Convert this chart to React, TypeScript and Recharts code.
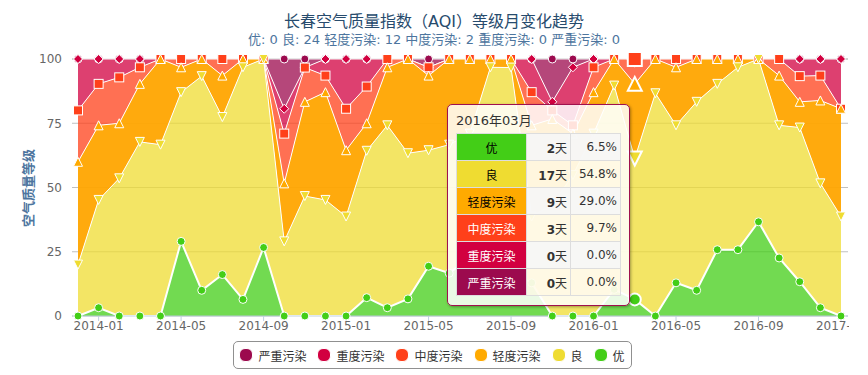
import React from 'react';
import { AreaChart, Area, XAxis, YAxis, CartesianGrid, Tooltip } from 'recharts';

// 月份（2013-12 ~ 2017-01）
const MONTHS = [
  '2013-12', '2014-01', '2014-02', '2014-03', '2014-04', '2014-05', '2014-06', '2014-07',
  '2014-08', '2014-09', '2014-10', '2014-11', '2014-12', '2015-01', '2015-02', '2015-03',
  '2015-04', '2015-05', '2015-06', '2015-07', '2015-08', '2015-09', '2015-10', '2015-11',
  '2015-12', '2016-01', '2016-02', '2016-03', '2016-04', '2016-05', '2016-06', '2016-07',
  '2016-08', '2016-09', '2016-10', '2016-11', '2016-12', '2017-01',
];

// 每月各等级天数
const EXCELLENT_DAYS = [0, 1, 0, 0, 0, 9, 3, 5, 2, 8, 0, 0, 0, 0, 2, 1, 2, 6, 5, 7, 6, 5, 4, 0, 0, 0, 3, 2, 0, 4, 3, 8, 8, 11, 7, 4, 1, 0];
const GOOD_DAYS = [1, 13, 15, 21, 20, 18, 25, 19, 28, 22, 9, 14, 14, 12, 16, 22, 17, 14, 15, 15, 24, 24, 8, 13, 17, 22, 23, 17, 26, 19, 22, 20, 22, 19, 16, 18, 15, 12];
const LIGHT_DAYS = [2, 9, 6, 7, 10, 3, 2, 5, 1, 0, 7, 11, 13, 8, 3, 7, 11, 9, 10, 9, 1, 1, 11, 10, 5, 5, 3, 9, 4, 7, 5, 3, 1, 0, 6, 3, 10, 13];
const MODERATE_DAYS = [1, 5, 5, 2, 0, 1, 0, 2, 0, 0, 6, 4, 2, 5, 4, 1, 0, 1, 0, 0, 0, 0, 4, 1, 1, 3, 0, 3, 0, 1, 0, 0, 0, 0, 2, 3, 3, 0];
const HEAVY_DAYS = [1, 3, 2, 1, 0, 0, 0, 0, 0, 0, 3, 0, 2, 6, 3, 0, 0, 0, 0, 0, 0, 0, 4, 1, 7, 1, 0, 0, 0, 0, 0, 0, 0, 0, 0, 2, 2, 6];
const SEVERE_DAYS = [0, 0, 0, 0, 0, 0, 0, 0, 0, 0, 6, 1, 0, 0, 0, 0, 0, 1, 0, 0, 0, 0, 0, 5, 1, 0, 0, 0, 0, 0, 0, 0, 0, 0, 0, 0, 0, 0];

const X_TICKS = ['2014-01', '2014-05', '2014-09', '2015-01', '2015-05', '2015-09', '2016-01', '2016-05', '2016-09', '2017-01'];
const Y_TICKS = [0, 25, 50, 75, 100];

type Shape = 'circle' | 'diamond' | 'square' | 'triangle' | 'triangle-down';

// 顺序：堆叠顶部 -> 底部（同图例顺序）
const SERIES: { key: string; name: string; color: string; fill: string; opacity: number; shape: Shape; text: string; days: number[] }[] = [
  { key: 'severe', name: '严重污染', color: '#9c0a4e', fill: '#9c0a4e', opacity: 0.75, shape: 'circle', text: '#fff', days: SEVERE_DAYS },
  { key: 'heavy', name: '重度污染', color: '#d20040', fill: '#d20040', opacity: 0.75, shape: 'diamond', text: '#fff', days: HEAVY_DAYS },
  { key: 'moderate', name: '中度污染', color: '#ff401a', fill: '#ff401a', opacity: 0.75, shape: 'square', text: '#fff', days: MODERATE_DAYS },
  { key: 'light', name: '轻度污染', color: '#ffaa00', fill: '#ffa500', opacity: 0.95, shape: 'triangle', text: '#000', days: LIGHT_DAYS },
  { key: 'good', name: '良', color: '#efdc31', fill: '#efdc31', opacity: 0.75, shape: 'triangle-down', text: '#000', days: GOOD_DAYS },
  { key: 'excellent', name: '优', color: '#43ce17', fill: '#43ce17', opacity: 0.75, shape: 'circle', text: '#000', days: EXCELLENT_DAYS },
];

const data = MONTHS.map((month, i) => {
  const total = SERIES.reduce((s, se) => s + se.days[i], 0);
  const row: Record<string, any> = { month, total };
  SERIES.forEach((se) => {
    row[se.key] = (se.days[i] / total) * 100;
    row[se.key + 'Days'] = se.days[i];
  });
  return row;
});

const FONT = '"DejaVu Sans", "Noto Sans CJK SC", sans-serif';

function marker(shape: Shape, color: string, r: number, sw: number, tag: string) {
  return (props: any) => {
    const { cx, cy, index } = props;
    const k = `${tag}-${index}`;
    if (cx == null || cy == null) return <g key={k} />;
    const common = { fill: color, stroke: '#fff', strokeWidth: sw };
    switch (shape) {
      case 'square':
        return <rect key={k} x={cx - r} y={cy - r} width={2 * r} height={2 * r} {...common} />;
      case 'diamond':
        return <path key={k} d={`M${cx} ${cy - r}L${cx + r} ${cy}L${cx} ${cy + r}L${cx - r} ${cy}Z`} {...common} />;
      case 'triangle':
        return <path key={k} d={`M${cx} ${cy - r}L${cx + r} ${cy + r}L${cx - r} ${cy + r}Z`} {...common} />;
      case 'triangle-down':
        return <path key={k} d={`M${cx - r} ${cy - r}L${cx + r} ${cy - r}L${cx} ${cy + r}Z`} {...common} />;
      default:
        return <circle key={k} cx={cx} cy={cy} r={r} {...common} />;
    }
  };
}

const ROWS = [...SERIES].reverse();

function AqiTooltip({ active, payload, label }: any) {
  if (!active || !payload || !payload.length) return null;
  const row = payload[0].payload;
  const [y, m] = String(label).split('-');
  return (
    <div
      style={{
        background: 'rgba(255,255,255,0.85)',
        border: '1px solid #a0104e',
        borderRadius: 5,
        boxShadow: '1px 1px 3px rgba(0,0,0,0.35)',
        padding: '7px 8px 9px 8px',
        fontFamily: FONT,
        fontSize: 12,
        color: '#333',
      }}
    >
      <div style={{ height: 21, lineHeight: '17px', fontSize: 13 }}>{`${y}年${m}月`}</div>
      <table style={{ borderCollapse: 'collapse' }}>
        <tbody>
          {ROWS.map((se, i) => (
            <tr key={se.key} style={{ height: 27 }}>
              <td
                style={{
                  width: 69,
                  background: se.color,
                  color: se.text,
                  textAlign: 'center',
                  border: '1px solid #ddd',
                  padding: 0,
                }}
              >
                {se.name}
              </td>
              <td
                style={{
                  width: 40,
                  textAlign: 'right',
                  border: '1px solid #ddd',
                  padding: '0 3px 0 0',
                  background: i % 2 === 0 ? 'rgba(246,246,246,0.9)' : 'rgba(255,248,225,0.6)',
                }}
              >
                <b>{row[se.key + 'Days']}</b>天
              </td>
              <td
                style={{
                  width: 46,
                  textAlign: 'right',
                  border: '1px solid #ddd',
                  padding: '0 3px 0 0',
                  background: i % 2 === 0 ? 'rgba(246,246,246,0.9)' : 'rgba(255,248,225,0.6)',
                }}
              >
                {row[se.key].toFixed(1)}%
              </td>
            </tr>
          ))}
        </tbody>
      </table>
    </div>
  );
}

function LegendBox() {
  return (
    <div
      style={{
        position: 'absolute',
        left: 233,
        top: 341,
        width: 397,
        height: 26,
        border: '1px solid #909090',
        borderRadius: 5,
        display: 'flex',
        alignItems: 'center',
        justifyContent: 'center',
        fontFamily: FONT,
        fontSize: 12,
        color: '#333',
      }}
    >
      {SERIES.map((se) => (
        <div key={se.key} style={{ display: 'flex', alignItems: 'center', margin: '0 6px 0 5px' }}>
          <span
            style={{
              display: 'inline-block',
              width: 12,
              height: 12,
              borderRadius: 6,
              background: se.color,
              border: '1px solid #fff',
              marginRight: 5,
            }}
          />
          <span>{se.name}</span>
        </div>
      ))}
    </div>
  );
}

export default function App() {
  return (
    <div style={{ position: 'relative', width: 868, height: 375, margin: '-8px 0 0 -8px', overflow: 'hidden', background: '#fff' }}>
      <div style={{ position: 'absolute', left: 0, top: 0, width: 1, height: 375, background: '#c8daee' }} />
      <div
        style={{
          position: 'absolute',
          left: 0,
          width: 868,
          top: 11,
          textAlign: 'center',
          fontFamily: FONT,
          fontSize: 16,
          color: '#274b6d',
          lineHeight: '22px',
        }}
      >
        长春空气质量指数（AQI）等级月变化趋势
      </div>
      <div
        style={{
          position: 'absolute',
          left: 0,
          width: 868,
          top: 32,
          textAlign: 'center',
          fontFamily: FONT,
          fontSize: 13,
          color: '#4d759e',
          lineHeight: '16px',
        }}
      >
        优: 0 良: 24 轻度污染: 12 中度污染: 2 重度污染: 0 严重污染: 0
      </div>
      <div
        style={{
          position: 'absolute',
          left: 27,
          top: 188,
          transform: 'translate(-50%, -50%) rotate(-90deg)',
          fontFamily: FONT,
          fontSize: 13,
          fontWeight: 'bold',
          color: '#4d759e',
          whiteSpace: 'nowrap',
        }}
      >
        空气质量等级
      </div>
      <div style={{ position: 'absolute', left: 0, top: 0 }}>
        <AreaChart
          width={849}
          height={375}
          data={data}
          margin={{ top: 59, right: 1, bottom: 29, left: 0 }}
          reverseStackOrder
        >
          <CartesianGrid horizontal vertical={false} stroke="#c0c0c0" />
          <XAxis
            dataKey="month"
            ticks={X_TICKS}
            interval={0}
            padding={{ left: 6, right: 7 }}
            height={30}
            tickSize={5}
            tickMargin={0}
            axisLine={{ stroke: '#c0d0e0' }}
            tickLine={{ stroke: '#c0d0e0' }}
            tick={{ fill: '#666', fontSize: 12, fontFamily: FONT }}
          />
          <YAxis
            width={72}
            domain={[0, 100]}
            ticks={Y_TICKS}
            axisLine={false}
            tickLine={false}
            tickMargin={4}
            tick={{ fill: '#666', fontSize: 12, fontFamily: FONT }}
          />
          <Tooltip
            content={<AqiTooltip />}
            defaultIndex={27}
            active
            cursor={false}
            position={{ x: 447, y: 104 }}
            wrapperStyle={{ outline: 'none', zIndex: 10 }}
            isAnimationActive={false}
          />
          {SERIES.map((se) => (
            <Area
              key={se.key}
              type="linear"
              dataKey={se.key}
              name={se.name}
              stackId="aqi"
              stroke="#fff"
              strokeWidth={se.key === 'excellent' ? 2 : 1}
              fill={se.fill}
              fillOpacity={se.opacity}
              dot={marker(se.shape, se.color, se.shape === 'circle' ? 4 : 4.5, 1, se.key)}
              activeDot={marker(se.shape, se.color, se.shape === 'circle' ? 6 : 7, 2, se.key + '-a')}
              isAnimationActive={false}
            />
          ))}
        </AreaChart>
      </div>
      <LegendBox />
    </div>
  );
}
